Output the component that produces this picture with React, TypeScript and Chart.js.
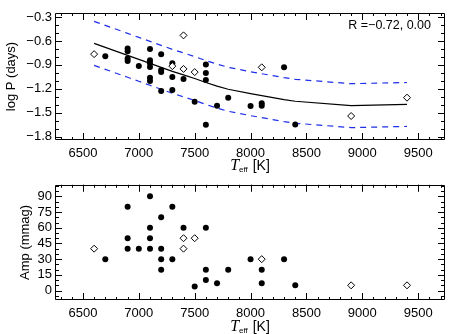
import React, { useEffect, useRef } from 'react';
import { Chart, registerables } from 'chart.js';

Chart.register(...registerables);

// ---------- data ----------
const xTickValues = [6500, 7000, 7500, 8000, 8500, 9000, 9500];
const logPTickValues = [-0.3, -0.6, -0.9, -1.2, -1.5, -1.8];
const ampTickValues = [0, 15, 30, 45, 60, 75, 90];

// top panel: log P vs Teff
const filledTeff = [6700, 6900, 6900, 6900, 6900, 7000, 7100, 7100, 7100, 7100, 7100, 7100, 7200, 7200, 7200, 7200, 7300, 7300, 7300, 7400, 7500, 7600, 7600, 7600, 7600, 7700, 7800, 8000, 8100, 8100, 8300, 8400];
const filledLogP = [-0.79, -0.695, -0.73, -0.82, -0.85, -0.915, -0.70, -0.84, -0.88, -0.925, -1.06, -1.10, -0.765, -0.965, -0.99, -1.225, -0.88, -1.05, -1.215, -1.075, -1.36, -0.895, -1.0, -1.09, -1.65, -1.41, -1.31, -1.415, -1.38, -1.41, -0.93, -1.645];
const openTeff = [6600, 7300, 7400, 7400, 7500, 8100, 8900, 9400];
const openLogP = [-0.765, -0.915, -0.53, -0.95, -0.99, -0.93, -1.54, -1.31];

const fitTeff = [6600, 6700, 6900, 7000, 7100, 7200, 7300, 7400, 7500, 7600, 7700, 7800, 8000, 8100, 8300, 8400, 8900, 9400];
const fitLogP = [-0.63, -0.68, -0.78, -0.83, -0.88, -0.93, -0.98, -1.025, -1.07, -1.12, -1.165, -1.205, -1.26, -1.285, -1.335, -1.355, -1.41, -1.395];
const fitUpper = [-0.355, -0.405, -0.505, -0.555, -0.605, -0.655, -0.705, -0.75, -0.795, -0.845, -0.89, -0.93, -0.985, -1.01, -1.06, -1.08, -1.135, -1.12];
const fitLower = [-0.905, -0.955, -1.055, -1.105, -1.155, -1.205, -1.255, -1.30, -1.345, -1.395, -1.44, -1.48, -1.535, -1.56, -1.61, -1.63, -1.685, -1.67];

// bottom panel: amplitude vs Teff
const ampFilledTeff = [6700, 6900, 6900, 6900, 7000, 7100, 7100, 7100, 7100, 7200, 7200, 7200, 7200, 7300, 7300, 7400, 7500, 7600, 7600, 7600, 7700, 7800, 8000, 8100, 8100, 8300, 8400];
const ampFilled = [30, 80, 50, 40, 40, 90, 60, 50, 40, 70, 40, 30, 20, 80, 30, 60, 4, 60, 20, 10, 7, 20, 30, 20, 7, 30, 5];
const ampOpenTeff = [6600, 7400, 7400, 7500, 8100, 8900, 9400];
const ampOpen = [40, 50, 40, 50, 30, 5, 5];

const correlationText = 'R =\u22120.72, 0.00';

// ---------- helpers ----------
const SANS = '"Liberation Sans", Arial, Helvetica, sans-serif';
const toXY = (xs: number[], ys: number[]) => xs.map((x, i) => ({ x, y: ys[i] }));
const fmtMinus = (s: string) => s.replace('-', '\u2212');

type FrameOpts = {
  xMinor: number[];
  yMinor: number[];
  titleBaseline: number;
  rText?: string;
};

function makeFramePlugin(o: FrameOpts) {
  return {
    id: 'frame' + Math.random().toString(36).slice(2),
    afterDraw(chart: any) {
      const ctx = chart.ctx as CanvasRenderingContext2D;
      const a = chart.chartArea;
      const xs = chart.scales.x;
      const ys = chart.scales.y;
      ctx.save();
      ctx.strokeStyle = '#000';
      ctx.lineWidth = 1;
      ctx.beginPath();
      ctx.rect(Math.round(a.left) + 0.5, Math.round(a.top) + 0.5, Math.round(a.right - a.left) - 1, Math.round(a.bottom - a.top) - 1);
      ctx.stroke();
      const tick = (x1: number, y1: number, x2: number, y2: number) => {
        ctx.moveTo(x1, y1);
        ctx.lineTo(x2, y2);
      };
      ctx.beginPath();
      xTickValues.forEach((v) => {
        const p = Math.round(xs.getPixelForValue(v)) + 0.5;
        tick(p, a.bottom, p, a.bottom - 7);
        tick(p, a.top, p, a.top + 7);
      });
      o.xMinor.forEach((v) => {
        const p = Math.round(xs.getPixelForValue(v)) + 0.5;
        tick(p, a.bottom, p, a.bottom - 3);
        tick(p, a.top, p, a.top + 3);
      });
      (ys.ticks as any[]).forEach((t) => {
        const p = Math.round(ys.getPixelForValue(t.value)) + 0.5;
        tick(a.left, p, a.left + 7, p);
        tick(a.right, p, a.right - 7, p);
      });
      o.yMinor.forEach((v) => {
        const p = Math.round(ys.getPixelForValue(v)) + 0.5;
        tick(a.left, p, a.left + 4, p);
        tick(a.right, p, a.right - 4, p);
      });
      ctx.stroke();

      // x axis title: T_eff [K]
      ctx.fillStyle = '#000';
      ctx.textBaseline = 'alphabetic';
      const fT = 'italic 16px "Liberation Serif", "Times New Roman", serif';
      const fSub = '8px ' + SANS;
      const fK = '14px ' + SANS;
      ctx.font = fT;
      const wT = ctx.measureText('T').width;
      ctx.font = fSub;
      const wSub = ctx.measureText('eff').width;
      ctx.font = fK;
      const wK = ctx.measureText(' [K]').width;
      const total = wT + wSub + 1 + wK;
      let x = (a.left + a.right) / 2 - total / 2;
      const b = o.titleBaseline;
      ctx.font = fT;
      ctx.fillText('T', x, b);
      x += wT;
      ctx.font = fSub;
      ctx.fillText('eff', x, b + 2);
      x += wSub + 1;
      ctx.font = fK;
      ctx.fillText(' [K]', x, b);

      if (o.rText) {
        ctx.font = '12.5px ' + SANS;
        ctx.textAlign = 'right';
        ctx.fillText(o.rText, 431, 29);
      }
      ctx.restore();
    },
  };
}

const xMinorTicks: number[] = [];
for (let v = 6300; v <= 9700; v += 100) xMinorTicks.push(v);
const logPMinor: number[] = [];
for (let i = -18; i <= -3; i++) logPMinor.push(i / 10);
const ampMinor: number[] = [];
for (let v = -5; v <= 100; v += 5) ampMinor.push(v);

function baseX(height: number) {
  return {
    type: 'linear' as const,
    min: 6250,
    max: 9740,
    afterBuildTicks: (s: any) => {
      s.ticks = xTickValues.map((v) => ({ value: v }));
    },
    afterFit: (s: any) => {
      s.height = height;
    },
    grid: { display: false, drawTicks: false },
    border: { display: false },
    ticks: {
      padding: 6,
      color: '#000',
      font: { family: SANS, size: 13 },
      maxRotation: 0,
      autoSkip: false,
      callback: (v: any) => String(v),
    },
  };
}

function baseY(min: number, max: number, tickVals: number[], title: string, titlePad: number, fmt: (v: number) => string) {
  return {
    type: 'linear' as const,
    min,
    max,
    afterBuildTicks: (s: any) => {
      s.ticks = tickVals.map((v) => ({ value: v }));
    },
    afterFit: (s: any) => {
      s.width = 55;
    },
    grid: { display: false, drawTicks: false },
    border: { display: false },
    ticks: {
      padding: 3,
      color: '#000',
      font: { family: SANS, size: 13 },
      autoSkip: false,
      callback: (v: any) => fmt(Number(v)),
    },
    title: {
      display: true,
      text: title,
      color: '#000',
      font: { family: SANS, size: 13 },
      padding: { top: titlePad, bottom: 0 },
    },
  };
}

const filledStyle = {
  pointStyle: 'circle',
  pointRadius: 3,
  pointBackgroundColor: '#000',
  pointBorderColor: '#000',
  pointBorderWidth: 0,
  showLine: false,
  order: 1,
};
const openStyle = {
  pointStyle: 'rectRot',
  pointRadius: 3.5,
  pointBackgroundColor: '#fff',
  pointBorderColor: '#000',
  pointBorderWidth: 1,
  showLine: false,
  order: 0,
};

export default function App() {
  const topRef = useRef<HTMLCanvasElement>(null);
  const botRef = useRef<HTMLCanvasElement>(null);

  useEffect(() => {
    const top = new Chart(topRef.current as HTMLCanvasElement, {
      type: 'scatter',
      data: {
        datasets: [
          { data: toXY(fitTeff, fitUpper), showLine: true, borderColor: '#1f2fe8', borderWidth: 1.2, borderDash: [6, 5], pointRadius: 0, order: 3 } as any,
          { data: toXY(fitTeff, fitLower), showLine: true, borderColor: '#1f2fe8', borderWidth: 1.2, borderDash: [6, 5], pointRadius: 0, order: 3 } as any,
          { data: toXY(fitTeff, fitLogP), showLine: true, borderColor: '#000', borderWidth: 1.2, pointRadius: 0, order: 2 } as any,
          { data: toXY(filledTeff, filledLogP), ...filledStyle } as any,
          { data: toXY(openTeff, openLogP), ...openStyle } as any,
        ],
      },
      options: {
        animation: false,
        responsive: false,
        devicePixelRatio: 1,
        layout: { padding: { top: 13, right: 18, left: 0, bottom: 0 } },
        plugins: { legend: { display: false }, tooltip: { enabled: false } },
        scales: {
          x: baseX(34),
          y: baseY(-1.84, -0.25, logPTickValues, 'log P (days)', 4, (v) => fmtMinus(v.toFixed(1))),
        },
      } as any,
      plugins: [makeFramePlugin({ xMinor: xMinorTicks, yMinor: logPMinor, titleBaseline: 170, rText: correlationText })],
    });

    const bot = new Chart(botRef.current as HTMLCanvasElement, {
      type: 'scatter',
      data: {
        datasets: [
          { data: toXY(ampFilledTeff, ampFilled), ...filledStyle } as any,
          { data: toXY(ampOpenTeff, ampOpen), ...openStyle } as any,
        ],
      },
      options: {
        animation: false,
        responsive: false,
        devicePixelRatio: 1,
        layout: { padding: { top: 2, right: 18, left: 0, bottom: 0 } },
        plugins: { legend: { display: false }, tooltip: { enabled: false } },
        scales: {
          x: baseX(34),
          y: baseY(-9, 101, ampTickValues, 'Amp (mmag)', 18, (v) => String(v)),
        },
      } as any,
      plugins: [makeFramePlugin({ xMinor: xMinorTicks, yMinor: ampMinor, titleBaseline: 157 })],
    });

    return () => {
      top.destroy();
      bot.destroy();
    };
  }, []);

  return (
    <div style={{ position: 'fixed', left: 0, top: 0, width: 463, height: 334, background: '#fff', overflow: 'hidden' }}>
      <canvas ref={topRef} width={463} height={174} style={{ position: 'absolute', left: 0, top: 0, width: 463, height: 174 }} />
      <canvas ref={botRef} width={463} height={160} style={{ position: 'absolute', left: 0, top: 174, width: 463, height: 160 }} />
    </div>
  );
}
